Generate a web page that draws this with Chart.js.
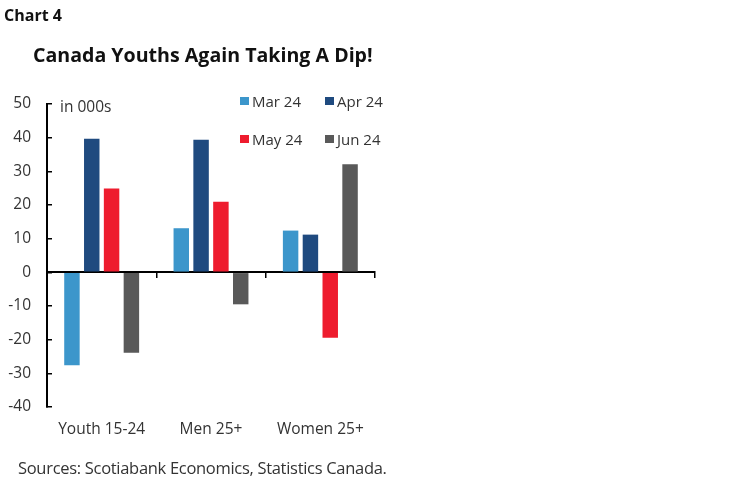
<!DOCTYPE html>
<html>
<head>
<meta charset="utf-8">
<script src="https://cdn.jsdelivr.net/npm/chart.js@4/dist/chart.umd.min.js"></script>
<style>
  html, body { margin: 0; padding: 0; background: #fff; }
  #wrap { position: relative; width: 749px; height: 482px; overflow: hidden; font-family: 'Open Sans', sans-serif; }
  #c { position: absolute; left: 0; top: 0; }
  .t { position: absolute; white-space: nowrap; color: #333; }
  .box { position: absolute; width: 9px; height: 8px; }
</style>
</head>
<body>
<div id="wrap">
  <canvas id="c" width="749" height="482"></canvas>
  <div class="t" style="left:4px;top:5px;font-size:16px;font-weight:700;color:#111;line-height:20px;">Chart 4</div>
  <div class="t" style="left:33px;top:42px;font-size:19.6px;font-weight:700;color:#111;line-height:26px;">Canada Youths Again Taking A Dip!</div>
  <div class="t" style="left:60px;top:96px;font-size:15.5px;line-height:20px;">in 000s</div>
  <div id="legend"></div>
  <div class="t" style="left:18px;top:457px;font-size:16.5px;line-height:22px;letter-spacing:-0.3px;">Sources: Scotiabank Economics, Statistics Canada.</div>
</div>
<script>
const categories = ['Youth 15-24', 'Men 25+', 'Women 25+'];
const seriesNames = ['Mar 24', 'Apr 24', 'May 24', 'Jun 24'];
const mar24 = [-27.6, 13.1, 12.4];
const apr24 = [39.7, 39.4, 11.2];
const may24 = [24.9, 21.0, -19.4];
const jun24 = [-23.9, -9.5, 32.1];
const yTicks = [50, 40, 30, 20, 10, 0, -10, -20, -30, -40];

const colors = ['#3C96CB', '#1F4A7F', '#EE1C2E', '#595959'];
const seriesValues = [mar24, apr24, may24, jun24];

// HTML legend (2x2)
const legendPos = [
  {x: 240, y: 101}, {x: 325, y: 101},
  {x: 240, y: 139}, {x: 325, y: 139}
];
const legend = document.getElementById('legend');
seriesNames.forEach((name, i) => {
  const p = legendPos[i];
  const b = document.createElement('div');
  b.className = 'box';
  b.style.left = p.x + 'px';
  b.style.top = (p.y - 4) + 'px';
  b.style.background = colors[i];
  legend.appendChild(b);
  const t = document.createElement('div');
  t.className = 't';
  t.style.left = (p.x + 12) + 'px';
  t.style.top = (p.y - 11) + 'px';
  t.style.fontSize = '15px';
  t.style.lineHeight = '22px';
  t.textContent = name;
  legend.appendChild(t);
});

Chart.defaults.font.family = "'Open Sans', sans-serif";
Chart.defaults.color = '#333';

new Chart(document.getElementById('c'), {
  type: 'bar',
  data: {
    labels: categories,
    datasets: seriesNames.map((n, i) => ({
      label: n,
      data: seriesValues[i],
      backgroundColor: colors[i],
      borderWidth: 0,
      categoryPercentage: 0.725,
      barPercentage: 0.78
    }))
  },
  options: {
    responsive: false,
    animation: false,
    layout: { padding: { left: 0, right: 374, top: 104, bottom: 0 } },
    plugins: { legend: { display: false }, tooltip: { enabled: false } },
    scales: {
      x: {
        type: 'category',
        position: 'bottom',
        offset: true,
        grid: { display: false, drawTicks: false },
        border: { display: false },
        ticks: { padding: 13, font: { size: 15.5 }, color: '#333', maxRotation: 0 },
        afterFit: s => { s.height = 75; }
      },
      x2: {
        type: 'category',
        labels: categories,
        position: { y: 0 },
        offset: true,
        grid: { offset: true, drawOnChartArea: false, drawTicks: true, tickLength: 5, color: '#000', lineWidth: 1.5 },
        border: { display: true, color: '#000', width: 2 },
        ticks: { display: false }
      },
      y: {
        min: -40,
        max: 50,
        afterBuildTicks: s => { s.ticks = yTicks.map(v => ({ value: v })); },
        grid: { drawOnChartArea: false, drawTicks: true, tickLength: -5, color: '#000', lineWidth: 1.5 },
        border: { display: true, color: '#000', width: 2 },
        ticks: { padding: 21, font: { size: 15.5 }, color: '#333' },
        afterFit: s => { s.width = 47; }
      }
    }
  }
});
</script>
</body>
</html>
